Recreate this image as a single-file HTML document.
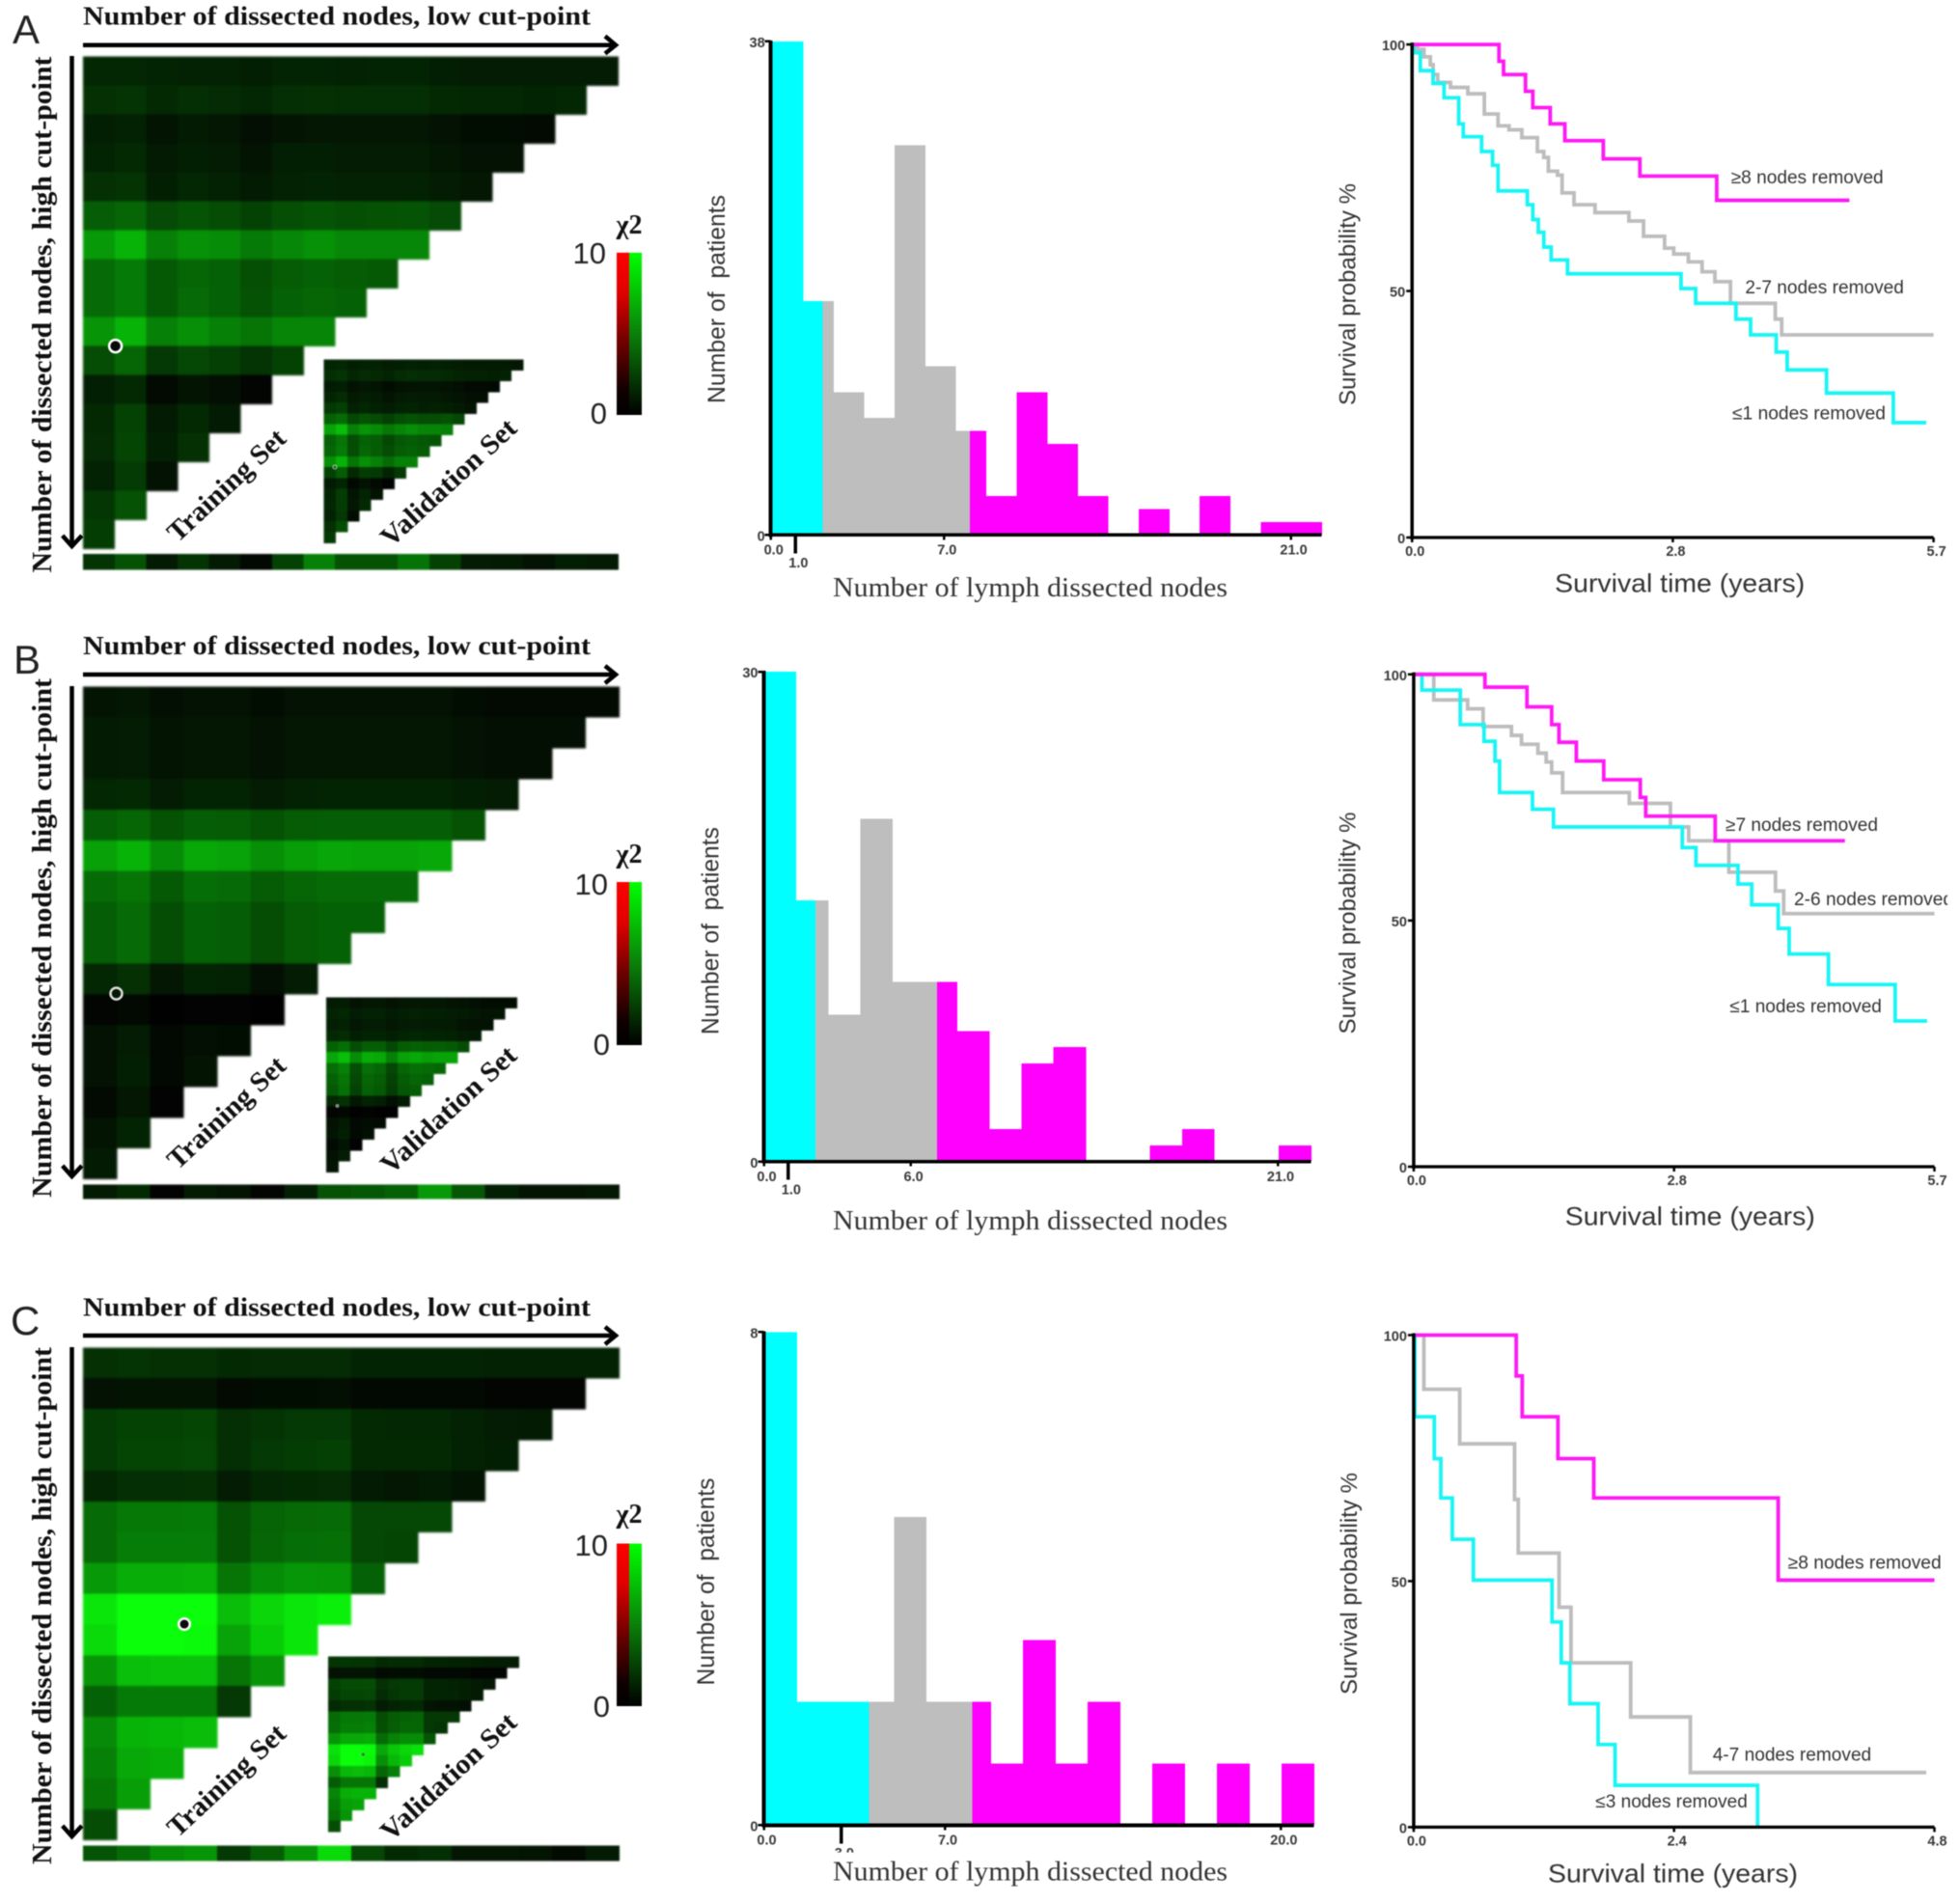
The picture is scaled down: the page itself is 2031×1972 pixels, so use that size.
<!DOCTYPE html>
<html lang="en">
<head>
<meta charset="utf-8">
<title>Lymph node cut-point analysis</title>
<style>
html,body{margin:0;padding:0;background:#fff;}
svg{display:block;filter:blur(0.6px);}
.ttl{font-family:"Liberation Serif",serif;font-weight:bold;fill:#111;}
.ser{font-family:"Liberation Serif",serif;fill:#333;}
.san{font-family:"Liberation Sans",sans-serif;fill:#333;}
.tk{font-family:"Liberation Sans",sans-serif;font-weight:bold;font-size:14.5px;fill:#3a3a3a;}
.big{font-family:"Liberation Sans",sans-serif;fill:#222;}
</style>
</head>
<body>
<svg id="fig" xmlns="http://www.w3.org/2000/svg" width="2031" height="1972" viewBox="0 0 2031 1972">
<defs>
<linearGradient id="redGrad" x1="0" y1="0" x2="0" y2="1">
<stop offset="0" stop-color="#ff0000"/><stop offset="0.25" stop-color="#e00000"/><stop offset="0.55" stop-color="#700000"/><stop offset="0.85" stop-color="#100000"/><stop offset="1" stop-color="#000000"/>
</linearGradient>
<linearGradient id="greenGrad" x1="0" y1="0" x2="0" y2="1">
<stop offset="0" stop-color="#00ff00"/><stop offset="0.5" stop-color="#0a800a"/><stop offset="1" stop-color="#000000"/>
</linearGradient>
</defs>
<rect x="0" y="0" width="2031" height="1972" fill="#fff"/>
<g id="charts"></g>

<!-- Panel A static -->
<g>
<text x="13" y="45" class="big" font-size="42">A</text>
<text x="86" y="25.7" class="ttl" font-size="27" textLength="526" lengthAdjust="spacingAndGlyphs">Number of dissected nodes, low cut-point</text>
<path d="M86 46.7H636M627 37.5L638 46.7L627 55.5" fill="none" stroke="#000" stroke-width="4.5"/>
<path d="M74.5 58V564M64.7 555L74.5 566L84.8 555" fill="none" stroke="#000" stroke-width="4.5"/>
<text transform="translate(53 326) rotate(-90)" text-anchor="middle" class="ttl" font-size="29" textLength="535" lengthAdjust="spacingAndGlyphs">Number of dissected nodes, high cut-point</text>
<circle cx="119.6" cy="358.6" r="6.5" fill="#0a0a0a" stroke="#fff" stroke-width="2.5"/>
<circle cx="347" cy="484" r="2" fill="none" stroke="#bbb" stroke-width="1"/>
<text transform="translate(184 563) rotate(-43)" class="ttl" font-size="29" textLength="156" lengthAdjust="spacingAndGlyphs">Training Set</text>
<text transform="translate(405 568) rotate(-42.7)" class="ttl" font-size="29" textLength="180" lengthAdjust="spacingAndGlyphs">Validation Set</text>
<rect x="639" y="261.8" width="13" height="168.2" fill="url(#redGrad)"/>
<rect x="652" y="261.8" width="13" height="168.2" fill="url(#greenGrad)"/>
<text x="628" y="273" text-anchor="end" class="big" font-size="31">10</text>
<text x="629" y="439" text-anchor="end" class="big" font-size="31">0</text>
<text x="652" y="242" text-anchor="middle" class="ttl" font-size="28">χ2</text>
<text x="1067.5" y="618" text-anchor="middle" class="ser" font-size="28" textLength="409" lengthAdjust="spacingAndGlyphs">Number of lymph dissected nodes</text>
<text transform="translate(751 310) rotate(-90)" text-anchor="middle" class="san" font-size="24.7" textLength="216" lengthAdjust="spacingAndGlyphs" style="white-space:pre">Number of  patients</text>
<text transform="translate(1404.5 305) rotate(-90)" text-anchor="middle" class="san" font-size="24" textLength="230" lengthAdjust="spacingAndGlyphs">Survival probability %</text>
<text x="1740.7" y="613.5" text-anchor="middle" class="san" font-size="27" textLength="259" lengthAdjust="spacingAndGlyphs">Survival time (years)</text>
<text x="1793.7" y="190" class="san" font-size="19" textLength="158" lengthAdjust="spacingAndGlyphs">≥8 nodes removed</text>
<text x="1808.4" y="304" class="san" font-size="19" textLength="164.5" lengthAdjust="spacingAndGlyphs">2-7 nodes removed</text>
<text x="1795" y="434.7" class="san" font-size="19" textLength="159" lengthAdjust="spacingAndGlyphs">≤1 nodes removed</text>
</g>

<!-- Panel B static -->
<g>
<text x="14" y="698" class="big" font-size="42">B</text>
<text x="86" y="678" class="ttl" font-size="27" textLength="526" lengthAdjust="spacingAndGlyphs">Number of dissected nodes, low cut-point</text>
<path d="M86 699H636M627 690L638 699L627 708" fill="none" stroke="#000" stroke-width="4.5"/>
<path d="M74.5 711V1217M64.7 1208L74.5 1219L84.8 1208" fill="none" stroke="#000" stroke-width="4.5"/>
<text transform="translate(53 972) rotate(-90)" text-anchor="middle" class="ttl" font-size="29" textLength="538" lengthAdjust="spacingAndGlyphs">Number of dissected nodes, high cut-point</text>
<circle cx="120.5" cy="1029.6" r="6" fill="#061806" stroke="#ddd" stroke-width="2.5"/>
<circle cx="349.5" cy="1146" r="2" fill="#888"/>
<text transform="translate(184 1213) rotate(-43)" class="ttl" font-size="29" textLength="156" lengthAdjust="spacingAndGlyphs">Training Set</text>
<text transform="translate(405 1218) rotate(-42.7)" class="ttl" font-size="29" textLength="180" lengthAdjust="spacingAndGlyphs">Validation Set</text>
<rect x="639" y="914" width="13" height="169" fill="url(#redGrad)"/>
<rect x="652" y="914" width="13" height="169" fill="url(#greenGrad)"/>
<text x="630" y="927" text-anchor="end" class="big" font-size="31">10</text>
<text x="632" y="1093" text-anchor="end" class="big" font-size="31">0</text>
<text x="652" y="894" text-anchor="middle" class="ttl" font-size="28">χ2</text>
<text x="1067.5" y="1274" text-anchor="middle" class="ser" font-size="28" textLength="409" lengthAdjust="spacingAndGlyphs">Number of lymph dissected nodes</text>
<text transform="translate(744.7 964.6) rotate(-90)" text-anchor="middle" class="san" font-size="24.7" textLength="215" lengthAdjust="spacingAndGlyphs" style="white-space:pre">Number of  patients</text>
<text transform="translate(1404.5 956.5) rotate(-90)" text-anchor="middle" class="san" font-size="24" textLength="230" lengthAdjust="spacingAndGlyphs">Survival probability %</text>
<text x="1751.3" y="1269.4" text-anchor="middle" class="san" font-size="27" textLength="259" lengthAdjust="spacingAndGlyphs">Survival time (years)</text>
<text x="1788" y="861" class="san" font-size="19" textLength="158" lengthAdjust="spacingAndGlyphs">≥7 nodes removed</text>
<text x="1859" y="938" class="san" font-size="19" textLength="165" lengthAdjust="spacingAndGlyphs">2-6 nodes removed</text>
<rect x="2018" y="915" width="13" height="30" fill="#fff"/>
<text x="1792.4" y="1049" class="san" font-size="19" textLength="157.5" lengthAdjust="spacingAndGlyphs">≤1 nodes removed</text>
</g>

<!-- Panel C static -->
<g>
<text x="11" y="1383" class="big" font-size="42">C</text>
<text x="86" y="1363.3" class="ttl" font-size="27" textLength="526" lengthAdjust="spacingAndGlyphs">Number of dissected nodes, low cut-point</text>
<path d="M86 1384H636M627 1375L638 1384L627 1393" fill="none" stroke="#000" stroke-width="4.5"/>
<path d="M74.5 1396V1901M64.7 1892L74.5 1903L84.8 1892" fill="none" stroke="#000" stroke-width="4.5"/>
<text transform="translate(53 1664) rotate(-90)" text-anchor="middle" class="ttl" font-size="29" textLength="536" lengthAdjust="spacingAndGlyphs">Number of dissected nodes, high cut-point</text>
<circle cx="191" cy="1683" r="5.8" fill="#0a0a0a" stroke="#fff" stroke-width="2.5"/>
<circle cx="376.3" cy="1818" r="1.5" fill="#555"/>
<text transform="translate(184 1905) rotate(-43)" class="ttl" font-size="29" textLength="156" lengthAdjust="spacingAndGlyphs">Training Set</text>
<text transform="translate(405 1909) rotate(-42.7)" class="ttl" font-size="29" textLength="180" lengthAdjust="spacingAndGlyphs">Validation Set</text>
<rect x="639" y="1599.5" width="13" height="168.5" fill="url(#redGrad)"/>
<rect x="652" y="1599.5" width="13" height="168.5" fill="url(#greenGrad)"/>
<text x="630" y="1612" text-anchor="end" class="big" font-size="31">10</text>
<text x="632" y="1779" text-anchor="end" class="big" font-size="31">0</text>
<text x="652" y="1578" text-anchor="middle" class="ttl" font-size="28">χ2</text>
<rect x="835" y="1919.6" width="50" height="14" fill="#fff"/>
<text x="1067.5" y="1948.6" text-anchor="middle" class="ser" font-size="28" textLength="409" lengthAdjust="spacingAndGlyphs">Number of lymph dissected nodes</text>
<text transform="translate(740 1639) rotate(-90)" text-anchor="middle" class="san" font-size="24.7" textLength="215" lengthAdjust="spacingAndGlyphs" style="white-space:pre">Number of  patients</text>
<text transform="translate(1406 1641) rotate(-90)" text-anchor="middle" class="san" font-size="24" textLength="230" lengthAdjust="spacingAndGlyphs">Survival probability %</text>
<text x="1733.5" y="1950.6" text-anchor="middle" class="san" font-size="27" textLength="259" lengthAdjust="spacingAndGlyphs">Survival time (years)</text>
<text x="1852.7" y="1625.4" class="san" font-size="19" textLength="159" lengthAdjust="spacingAndGlyphs">≥8 nodes removed</text>
<text x="1774.7" y="1824.5" class="san" font-size="19" textLength="164.5" lengthAdjust="spacingAndGlyphs">4-7 nodes removed</text>
<text x="1653.3" y="1873.2" class="san" font-size="19" textLength="157.5" lengthAdjust="spacingAndGlyphs">≤3 nodes removed</text>
</g>
</svg>

<script>
/* ---------- heatmap values: chi-square 0..10 ---------- */
const heatA = [
[1.5,1.5,1.4,1.3,1.3,1.2,1.4,1.4,1.3,1.4,1.4,1.2,1.1,1.1,1.1,1.1,1.1],
[1.9,2,1.6,1.8,1.7,1.5,1.8,1.9,1.8,1.8,1.8,1.6,1.5,1.5,1.4,1.5],
[1.2,1.3,0.8,1,0.9,0.6,0.8,0.9,0.9,0.9,0.9,0.7,0.5,0.5,0.4],
[1.4,1.6,1,1.2,1.1,0.8,1.2,1.2,1.1,1.1,1.1,0.9,0.7,0.7],
[1.9,2,1.2,1.5,1.3,1,1.3,1.4,1.3,1.3,1.3,1.1,0.9],
[3.7,4,2.9,3.3,3,2.6,3.1,3.3,3.1,3.2,3.3,2.9],
[6,7,5,5.7,5.5,4.8,5.3,5.7,5.3,5.3,5.3],
[4.2,4.8,3.5,4,3.8,3.1,3.6,3.8,3.6,3.5],
[4.2,4.8,3.5,4.2,3.8,3.2,3.8,4,3.8],
[5.8,7,5,5.6,5,4.6,5.2,5.2],
[3,4,2.2,2.8,2.5,2,2.6],
[1.2,1.6,0.4,0.8,0.6,0.2],
[1.6,2.6,1,1.6,1],
[1.7,2.7,1.2,1.9],
[1.3,2.3,0.7],
[2.1,3.2],
[2.4]
];
const stripA = [2,3.2,1,2,1,0.3,2.6,5,3.2,3.2,4.5,2.6,1.1,1,0.7,1.2,1];
const insetA = [
[1.4,1.5,1.2,1.3,1.3,1.1,1.2,1.3,1.2,1.3,1.2,1.1,1,1,1,1,0.9],
[1.8,2,1.5,1.7,1.6,1.4,1.7,1.8,1.7,1.7,1.6,1.4,1.3,1.3,1.2,1.3],
[1,1.2,0.7,0.9,0.8,0.5,0.7,0.8,0.8,0.8,0.7,0.6,0.4,0.4,0.3],
[1.4,1.7,1,1.2,1,0.8,1,1.1,1,1,0.9,0.8,0.6,0.6],
[2.2,2.5,1.3,1.5,1.3,1.1,1.3,1.4,1.2,1.3,1.2,1,0.8],
[3.8,4.2,2.8,3.2,2.9,2.5,3,3.2,3,3,3.2,2.8],
[6.4,7.4,5,5.8,5.4,4.7,5.2,5.6,5.2,5.2,5],
[3.8,4.6,3,3.8,3.6,2.8,3.4,3.6,3.4,3.3],
[4,4.8,3,4,3.6,3,3.6,3.8,3.6],
[5.6,7,4.6,5.6,5,4.2,5,5],
[2.6,3.6,1.6,2.4,2.2,1.4,2.2],
[1,1.4,0.3,0.7,0.4,0.1],
[1.4,2.4,0.8,1.4,0.8],
[1.5,2.4,0.9,1.6],
[1.3,2.2,0.5],
[1.9,3],
[2.2]
];
const heatB = [
[0.8,0.9,0.6,0.7,0.7,0.5,0.7,0.7,0.7,0.7,0.7,0.5,0.4,0.4,0.4,0.4],
[1,1.1,0.8,0.9,0.9,0.7,0.9,0.9,0.9,0.9,0.9,0.7,0.6,0.6,0.6],
[1,1.1,0.8,0.9,0.9,0.7,0.9,0.9,0.9,0.9,0.9,0.7,0.6,0.6],
[1.5,1.6,1.1,1.4,1.4,1.1,1.3,1.4,1.4,1.4,1.4,1.2,1.1],
[3.7,4,3.2,3.7,3.6,3.2,3.6,3.7,3.7,3.7,3.7,3.2],
[6.3,7,5.5,6.6,6.4,5.6,6.2,6.5,6.4,6.4,6.6],
[4.2,4.6,3.5,4.3,4.2,3.6,4,4.2,4.2,4.2],
[3.7,4.2,3,3.8,3.7,3,3.6,3.8,3.8],
[3.7,4.2,3,3.8,3.7,3,3.6,3.8],
[1.5,1.9,0.9,1.4,1.3,0.6,1.1],
[0.2,0.3,0.05,0.1,0.1,0.05],
[0.7,1.1,0.3,0.6,0.5],
[0.7,1.2,0.3,0.8],
[0.4,0.9,0.1],
[0.8,1.4],
[1]
];
const stripB = [1,1.6,0.1,1,0.8,0.2,1.2,3.2,3.4,3.8,6,3.4,1.2,0.8,0.8,0.9];
const insetB = [
[1,1.1,0.7,0.9,0.9,0.7,0.9,0.9,0.9,0.9,0.8,0.7,0.6,0.5,0.5,0.5],
[1.4,1.5,1.1,1.3,1.3,1,1.2,1.3,1.2,1.2,1.1,1,0.9,0.8,0.8],
[1.2,1.3,0.9,1.1,1.1,0.9,1,1.1,1,1,1,0.8,0.7,0.7],
[1.6,1.7,1.2,1.4,1.4,1.2,1.4,1.5,1.4,1.4,1.3,1.1,1],
[3.8,4.3,3,3.7,3.7,2.8,3.6,3.8,3.6,3.7,3.5,3],
[6.5,7.5,5.5,6.8,6.6,5,6.3,6.6,6.2,6.4,6.4],
[4.3,5,3,4.4,4,2.8,4,4.4,4.2,4],
[3.8,4.6,2.8,4,3.7,2.6,3.6,4,3.8],
[3.5,4.4,2.6,3.8,3.5,2.4,3.4,3.6],
[1.5,1.9,0.9,1.4,1.2,0.6,1],
[0.2,0.3,0.05,0.1,0.05,0.05],
[0.7,1,0.3,0.5,0.4],
[0.8,1.2,0.3,0.6],
[0.4,0.8,0.1],
[0.7,1.1],
[0.8]
];
const heatC = [
[1.9,2,1.9,1.9,1.6,1.7,1.7,1.7,1.4,1.4,1.4,1.4,1.3,1.3,1.3,1.3],
[0.7,0.8,0.8,0.8,0.4,0.5,0.5,0.6,0.3,0.3,0.3,0.3,0.2,0.2,0.2],
[2.3,2.6,2.6,2.7,1.8,2,2.2,2.2,1.6,1.5,1.5,1.3,1.1,1],
[2.3,2.7,2.7,2.8,1.8,2.2,2.4,2.5,1.6,1.6,1.6,1.3,1.2],
[1.5,1.8,1.8,1.9,1.1,1.5,1.6,1.7,1,0.9,1,0.8],
[4.2,4.7,4.7,4.8,3.2,3.9,4.1,4.2,2.8,2.8,2.8],
[4.2,4.9,4.9,4.9,3.2,4,4.3,4.4,2.8,2.7],
[6,6.8,6.8,6.9,4.6,5.5,5.9,5.8,3.8],
[9,10,10,10,7.4,8.4,9,9.4],
[8.5,10,10,9.8,6.4,8,9],
[5.8,7.5,7.6,7.6,4.6,5.8],
[3.8,4.8,4.8,4.8,2.2],
[5.4,7,7.2,7.4],
[5,6.6,6.8],
[4.6,6.2],
[3]
];
const stripC = [3.3,4.2,5.5,5.8,2.2,3.6,5.8,8.5,2.8,1.6,1.8,0.9,0.9,0.8,0.4,1];
const insetC = [
[2,2.1,2,2,1.6,1.7,1.7,1.7,1.4,1.4,1.3,1.3,1.2,1.1,1.1,1.1],
[0.7,0.8,0.8,0.8,0.4,0.5,0.5,0.5,0.3,0.3,0.3,0.3,0.2,0.2,0.2],
[2.6,2.9,2.9,3,1.9,2.2,2.3,2.3,1.4,1.4,1.3,1.2,1,0.9],
[2.3,2.7,2.7,2.8,1.7,2.1,2.3,2.3,1.4,1.4,1.4,1.2,1],
[1.6,1.9,1.9,2,1.1,1.4,1.5,1.6,0.8,0.7,0.7,0.6],
[4.2,4.7,4.7,4.8,3,3.6,3.8,3.9,2.2,2.2,2.2],
[4.3,4.9,4.9,5,3.1,3.7,4,4,2.2,2],
[5.8,6.6,6.6,6.8,4.2,5.1,5.5,5.5,3.3],
[8.8,10,10,9.8,6.6,7.8,8.4,8.8],
[8.4,10,10,9.6,5.6,7.2,8],
[5.6,7.2,7.4,7.2,4,5],
[3.6,4.6,4.6,4.6,1.8],
[5.2,6.8,7,7],
[4.8,6.2,6.4],
[4.4,5.8],
[3]
];

/* ---------- histogram values ---------- */
const histCountsA = [38,18,11,9,30,13,8,3,11,7,3,0,2,0,3,0,1,1];
const histCutsA = [2.04,8];
const histXTicksA = [0,1,7,21];
const histXLabelsA = ["0.0","1.0","7.0","21.0"];
const histYTicksA = [0,38];
const histCountsB = [30,16,9,21,11,11,8,2,6,7,0,0,1,2,0,0,1];
const histCutsB = [2.1,7.07];
const histXTicksB = [0,1,6,21];
const histXLabelsB = ["0.0","1.0","6.0","21.0"];
const histYTicksB = [0,30];
const histCountsC = [8,2,2,2,5,2,2,1,3,1,2,0,1,0,1,0,1];
const histCutsC = [4.05,8.05];
const histXTicksC = [0,3,7,20];
const histXLabelsC = ["0.0","3.0","7.0","20.0"];
const histYTicksC = [0,8];

/* ---------- survival values ---------- */
const kmTimesAHigh = [0,0.95,1.0,1.24,1.32,1.51,1.67,2.09,2.49,3.33,4.78];
const kmSurvAHigh = [100,96.6,93.9,90.5,87.2,83.9,80.5,76.8,73.3,68.4,68.4];
const kmTimesAMid = [0,0.06,0.13,0.20,0.23,0.28,0.42,0.61,0.79,0.94,1.06,1.20,1.37,1.44,1.49,1.59,1.64,1.77,2.0,2.37,2.53,2.76,2.86,3.02,3.17,3.31,3.48,3.97,4.04,5.7];
const kmSurvAMid = [100,99,97.5,95.9,93.9,92.3,91.3,90,85.9,83.5,82.7,81.1,78.3,77.1,74.3,73.5,69.9,67.5,65.9,64.2,61.1,58.7,57.5,55.9,53.9,51.9,47.5,44.3,41.1,41.1];
const kmTimesALow = [0,0.02,0.09,0.23,0.35,0.51,0.56,0.76,0.88,0.94,1.26,1.32,1.38,1.44,1.52,1.70,2.94,3.10,3.54,3.70,3.98,4.10,4.53,5.26,5.62];
const kmSurvALow = [100,98.3,94.7,92.1,89.2,83.9,81.3,78.3,75.5,70.3,67.5,64.5,61.9,58.9,56.3,53.5,50.5,47.5,44.3,41.1,37.6,34,29.3,23.3,23.3];
const kmXTicksA = [0,2.85,5.7];
const kmXLabelsA = ["0.0","2.8","5.7"];

const kmTimesBHigh = [0,0.78,1.24,1.51,1.59,1.78,2.08,2.48,2.54,3.30,4.72];
const kmSurvBHigh = [100,97.4,93.4,89.8,86.2,82.4,78.6,75,71.2,66.2,66.2];
const kmTimesBMid = [0,0.22,0.59,0.76,1.07,1.18,1.36,1.45,1.51,1.63,2.36,2.81,3.01,3.45,3.96,4.05,5.7];
const kmSurvBMid = [100,94.8,93,89.4,87.6,85.8,84,82.2,80,76,73.8,69,66.2,59.8,56,51.4,51.4];
const kmTimesBLow = [0,0.09,0.51,0.77,0.89,0.94,1.30,1.53,2.94,3.09,3.55,3.70,3.99,4.11,4.54,5.27,5.62];
const kmSurvBLow = [100,96.8,89.8,86.4,82.4,76,72.6,69,64.8,61.2,57.4,53.2,48.4,43.2,37,29.6,29.6];
const kmXTicksB = [0,2.85,5.7];
const kmXLabelsB = ["0.0","2.8","5.7"];

const kmTimesCHigh = [0,0.945,1.0,1.33,1.66,3.36,4.8];
const kmSurvCHigh = [100,91.7,83.4,74.9,66.9,50.2,50.2];
const kmTimesCMid = [0,0.094,0.424,0.93,0.964,1.34,1.45,2.0,2.55,4.725];
const kmSurvCMid = [100,89,77.9,66.6,55.7,44.7,33.4,22.4,11.1,11.1];
const kmTimesCLow = [0,0.011,0.19,0.25,0.356,0.55,1.275,1.36,1.44,1.70,1.856,3.17];
const kmSurvCLow = [100,83.4,74.9,66.9,58.5,50.2,41.7,33.4,25.1,16.8,8.5,0];
const kmXTicksC = [0,2.4,4.8];
const kmXLabelsC = ["0.0","2.4","4.8"];

const kmYTicks = [0,50,100];
const kmYLabels = ["0","50","100"];

/* ---------- drawing helpers ---------- */
const NS = "http://www.w3.org/2000/svg";
const root = document.getElementById("charts");

function mk(tag, attrs) {
  const el = document.createElementNS(NS, tag);
  for (const k in attrs) el.setAttribute(k, attrs[k]);
  return el;
}

function heatColor(v) {
  const c = Math.min(Math.max(v, 0), 10);
  const g = Math.round(c * 25.5);
  const rb = Math.round(2 + c * 0.9);
  return "rgb(" + rb + "," + g + "," + rb + ")";
}

function drawHeat(prefix, matrix, x0, y0, cw, ch, blurPx) {
  const g = mk("g", {"shape-rendering": "crispEdges", style: "filter:blur(" + blurPx + "px)"});
  
  
  matrix.forEach(function (row, r) {
    row.forEach(function (v, c) {
      const rect = mk("rect", {x: x0 + c * cw, y: y0 + r * ch, width: cw + 0.4, height: ch + 0.4, fill: heatColor(v)});
      
      
      g.appendChild(rect);
    });
  });
  root.appendChild(g);
}

function addLabel(g, text, x, y, anchor) {
  const t = mk("text", {x: x, y: y, "text-anchor": anchor, dy: "0.35em", "class": "tk"});
  t.textContent = text;
  
  
  g.appendChild(t);
}

function addLine(g, x1, y1, x2, y2, w) {
  const l = mk("line", {x1: x1, y1: y1, x2: x2, y2: y2, stroke: "#000", "stroke-width": w});
  
  
  g.appendChild(l);
}

function drawHist(name, box, counts, cuts, xTicks, xLabels, yTicks) {
  const g = mk("g", {"shape-rendering": "crispEdges"});
  
  
  const yMax = yTicks[yTicks.length - 1];
  const sx = function (v) { return box.x0 + v / box.xMax * (box.x1 - box.x0); };
  const bx = function (v) { return sx(v) + box.shift * (1 - v / box.xMax); };
  const sy = function (v) { return box.yb - v / yMax * (box.yb - box.yt); };
  const bw = box.xMax / counts.length;
  const edges = [0, cuts[0], cuts[1], box.xMax];
  const colors = ["#00ffff", "#bebebe", "#ff00ff"];
  const groups = ["low", "mid", "high"];
  counts.forEach(function (n, i) {
    if (n <= 0) return;
    const lo = i * bw;
    const hi = (i + 1) * bw;
    for (let k = 0; k < 3; k++) {
      const a = Math.max(lo, edges[k]);
      const b = Math.min(hi, edges[k + 1]);
      if (b <= a) continue;
      const r = mk("rect", {x: bx(a), y: sy(n), width: bx(b) - bx(a) + 0.3, height: sy(0) - sy(n), fill: colors[k]});
      
      
      g.appendChild(r);
    }
  });
  addLine(g, box.x0, box.yt - 1, box.x0, box.yb + 2, 4);
  addLine(g, box.x0 - 2, box.yb, box.x1, box.yb, 3.8);
  yTicks.forEach(function (v) {
    addLine(g, box.x0 - 6, sy(v), box.x0, sy(v), 2.5);
    addLabel(g, String(v), box.x0 - 6, sy(v) + 1, "end");
  });
  xTicks.forEach(function (v, i) {
    const drop = i === 1;
    addLine(g, sx(v), box.yb, sx(v), box.yb + (drop ? 19 : 5), drop ? 3.5 : 2.5);
    addLabel(g, xLabels[i], sx(v) + 3, box.yb + (drop ? 28.7 : 15), "middle");
  });
  root.appendChild(g);
}

function drawCurve(g, name, times, surv, color, sx, sy) {
  let d = "M" + sx(times[0]) + " " + sy(surv[0]);
  for (let i = 1; i < times.length; i++) {
    d += "H" + sx(times[i]) + "V" + sy(surv[i]);
  }
  const p = mk("path", {d: d, fill: "none", stroke: color, "stroke-width": 3.8, "stroke-linejoin": "miter"});
  
  
  g.appendChild(p);
}

function drawKM(name, box, series, xTicks, xLabels) {
  const g = mk("g", {});
  
  
  const sx = function (v) { return box.x0 + v / box.xMax * (box.x1 - box.x0); };
  const sy = function (v) { return box.yb - v / 100 * (box.yb - box.yt); };
  series.forEach(function (s) {
    drawCurve(g, s.name, s.t, s.s, s.color, sx, sy);
  });
  addLine(g, box.x0, box.yt - 2, box.x0, box.yb + 2, 3.5);
  addLine(g, box.x0 - 2, box.yb, box.x1, box.yb, 3.2);
  kmYTicks.forEach(function (v, i) {
    addLine(g, box.x0 - 6, sy(v), box.x0, sy(v), 2.5);
    addLabel(g, kmYLabels[i], box.x0 - 7, sy(v) + 1, "end");
  });
  xTicks.forEach(function (v, i) {
    addLine(g, sx(v), box.yb, sx(v), box.yb + 5, 2.5);
    addLabel(g, xLabels[i], sx(v) + 3, box.yb + 14, "middle");
  });
  root.appendChild(g);
}

/* ---------- render ---------- */
drawHeat("heatmap-a-training", heatA, 86.2, 58.5, 32.6, 30, 1);
drawHeat("heatmap-a-strip", [stripA], 86.2, 574, 32.6, 16, 0.8);
drawHeat("heatmap-a-validation", insetA, 335.7, 372.5, 12.13, 11.17, 0.8);
drawHeat("heatmap-b-training", heatB, 86.2, 711.3, 34.7, 31.9, 1);
drawHeat("heatmap-b-strip", [stripB], 86.2, 1227.3, 34.7, 14.7, 0.8);
drawHeat("heatmap-b-validation", insetB, 338, 1033.5, 12.35, 11.32, 0.8);
drawHeat("heatmap-c-training", heatC, 86.2, 1396.3, 34.7, 31.9, 1);
drawHeat("heatmap-c-strip", [stripC], 86.2, 1912.3, 34.7, 15.6, 0.8);
drawHeat("heatmap-c-validation", insetC, 340, 1716.6, 12.35, 11.34, 0.8);

drawHist("histogram-a", {x0: 798.7, x1: 1369.6, yt: 42.9, yb: 554.3, xMax: 22.25, shift: 1.8}, histCountsA, histCutsA, histXTicksA, histXLabelsA, histYTicksA);
drawHist("histogram-b", {x0: 791.5, x1: 1358.5, yt: 696, yb: 1203.7, xMax: 22.36, shift: 0}, histCountsB, histCutsB, histXTicksB, histXLabelsB, histYTicksB);
drawHist("histogram-c", {x0: 791.5, x1: 1361.6, yt: 1380.3, yb: 1891.4, xMax: 21.28, shift: 0.8}, histCountsC, histCutsC, histXTicksC, histXLabelsC, histYTicksC);

drawKM("survival-a", {x0: 1463.2, x1: 2003.6, yt: 46.1, yb: 557, xMax: 5.7}, [
  {name: "survival-a-curve-mid", t: kmTimesAMid, s: kmSurvAMid, color: "#bdbdbd"},
  {name: "survival-a-curve-low", t: kmTimesALow, s: kmSurvALow, color: "#19f5f5"},
  {name: "survival-a-curve-high", t: kmTimesAHigh, s: kmSurvAHigh, color: "#ff19f5"}
], kmXTicksA, kmXLabelsA);
drawKM("survival-b", {x0: 1464.9, x1: 2004.5, yt: 698.8, yb: 1209, xMax: 5.7}, [
  {name: "survival-b-curve-mid", t: kmTimesBMid, s: kmSurvBMid, color: "#bdbdbd"},
  {name: "survival-b-curve-low", t: kmTimesBLow, s: kmSurvBLow, color: "#19f5f5"},
  {name: "survival-b-curve-high", t: kmTimesBHigh, s: kmSurvBHigh, color: "#ff19f5"}
], kmXTicksB, kmXLabelsB);
drawKM("survival-c", {x0: 1464.9, x1: 2004.5, yt: 1383.5, yb: 1893.4, xMax: 4.8}, [
  {name: "survival-c-curve-mid", t: kmTimesCMid, s: kmSurvCMid, color: "#bdbdbd"},
  {name: "survival-c-curve-low", t: kmTimesCLow, s: kmSurvCLow, color: "#19f5f5"},
  {name: "survival-c-curve-high", t: kmTimesCHigh, s: kmSurvCHigh, color: "#ff19f5"}
], kmXTicksC, kmXLabelsC);
</script>
</body>
</html>
